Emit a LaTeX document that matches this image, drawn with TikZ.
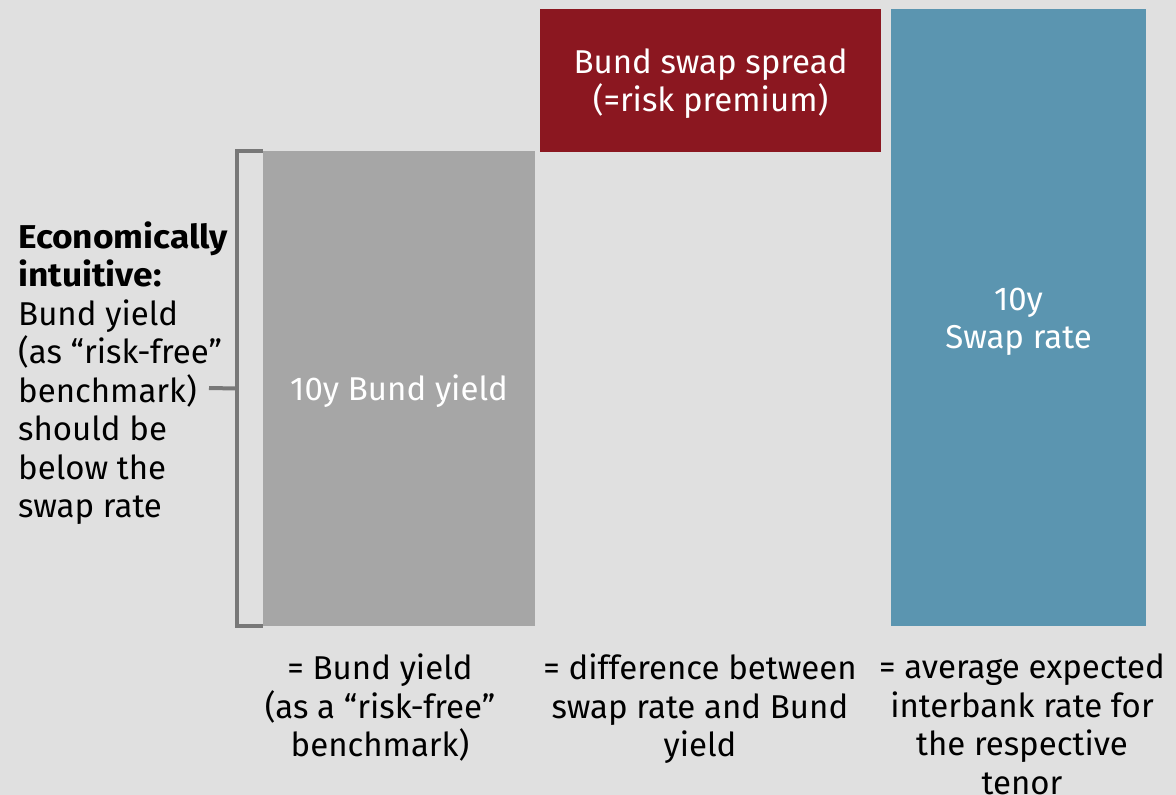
\documentclass[tikz,border=0pt]{standalone}
\usepackage{fontspec}
\setmainfont{Fira Sans}
\definecolor{bg}{HTML}{E0E0E0}
\definecolor{bundgray}{HTML}{A6A6A6}
\definecolor{brackgray}{HTML}{787878}
\definecolor{spreadred}{HTML}{8B1720}
\definecolor{swapblue}{HTML}{5B95B0}
\newcommand{\wideb}[1]{{\bfseries\addfontfeature{FakeStretch=1.07}#1}}
\tikzset{
  bar/.style={draw=none, inner sep=0pt},
  bartext/.style={inner sep=0pt, text=white, align=center,
    font=\fontsize{33}{38.5}\selectfont},
  caption/.style={inner sep=0pt, align=center, text=black,
    font=\fontsize{33}{38.5}\selectfont},
  brack/.style={draw=brackgray, line width=4pt},
}
\begin{document}
\begin{tikzpicture}[x=1pt,y=-1pt]
  % canvas
  \fill[bg] (0,0) rectangle (1176,795);
  \useasboundingbox (0,0) rectangle (1176,795);

  % the three bars
  \node[bar, fill=bundgray, minimum width=272pt, minimum height=475pt]
    (bund) at (399,388.5) {};
  \node[bar, fill=spreadred, minimum width=341pt, minimum height=143pt]
    (spread) at (710.5,80.5) {};
  \node[bar, fill=swapblue, minimum width=255pt, minimum height=617pt]
    (swap) at (1018.5,317.5) {};

  % bar labels
  \node[bartext, yshift=-3pt] (bundlbl) at (bund.center) {10y Bund yield};
  \node[bartext, yshift=-3pt] (spreadlbl) at (spread.center)
    {Bund swap spread\\(=risk premium)};
  \node[bartext, yshift=-4.5pt] (swaplbl) at (swap.center) {10y\\Swap rate};

  % bracket along the Bund bar
  \draw[brack] (bund.north west) -- ++(-26,0) coordinate (btop)
    -- (btop |- bund.south west) -- (bund.south west);
  \coordinate (bmid) at (btop |- bund.west);
  \coordinate (tickend) at (209,388);
  \draw[brack] (bmid) -- (tickend);

  % side note
  \node[caption, align=left, anchor=north west] (note) at (18,221.5)
    {\wideb{Economically}\\\wideb{intuitive:}\\Bund yield\\(as “risk-free”\\benchmark)\\should be\\below the\\swap rate};

  % captions under the bars
  \node[caption, anchor=north] (cap1) at (380,654)
    {= Bund yield\\(as a “risk-free”\\benchmark)};
  \node[caption, anchor=north] (cap2) at (700,654)
    {= difference between\\swap rate and Bund\\yield};
  \node[caption, anchor=north] (cap3) at (1022,654)
    {= average expected\\interbank rate for\\the respective\\tenor};
\end{tikzpicture}
\end{document}
